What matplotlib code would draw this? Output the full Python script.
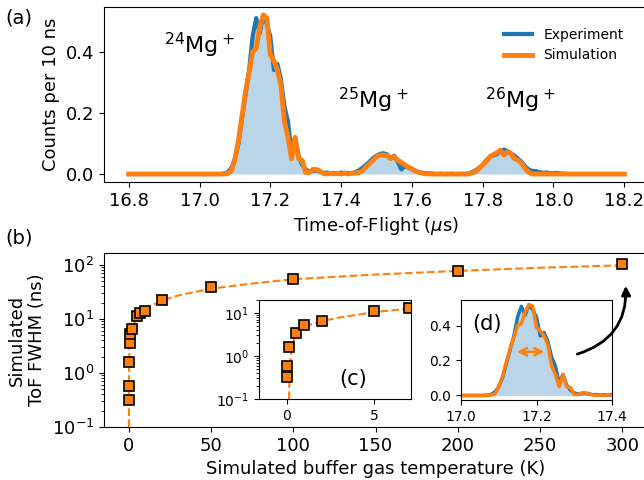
import numpy as np
import matplotlib
matplotlib.use("Agg")
import matplotlib.pyplot as plt

# time bins, 10 ns wide (us)
tof = np.round(np.linspace(16.80, 18.20, 141), 2)

# measured counts per 10 ns, 16.80 .. 18.20
experiment = [
    0, 0, 0, 0, 0, 0, 0, 0, 0, 0,                                   # 16.80
    0, 0, 0, 0, 0, 0, 0, 0, 0, 0,                                   # 16.90
    0, 0, 0, 0, 0, 0, 0, 0.002, 0.006, 0.02,                        # 17.00
    0.05, 0.10, 0.18, 0.26, 0.34, 0.45, 0.51, 0.46, 0.52, 0.49,     # 17.10
    0.45, 0.34, 0.36, 0.31, 0.22, 0.17, 0.07, 0.12, 0.06, 0.03,     # 17.20
    0.015, 0.008, 0.01, 0.012, 0.008, 0.004, 0.005, 0.002, 0.004, 0.001,  # 17.30
    0.005, 0.002, 0.004, 0.002, 0.006, 0.012, 0.02, 0.03, 0.04, 0.052,   # 17.40
    0.06, 0.066, 0.068, 0.064, 0.052, 0.06, 0.04, 0.015, 0.025, 0.022,   # 17.50
    0.016, 0.01, 0.007, 0.004, 0.003, 0.002, 0.001, 0, 0.001, 0,         # 17.60
    0, 0.001, 0, 0, 0.001, 0, 0.002, 0.006, 0.012, 0.02,                 # 17.70
    0.03, 0.045, 0.055, 0.06, 0.065, 0.075, 0.08, 0.075, 0.068, 0.06,    # 17.80
    0.05, 0.04, 0.025, 0.015, 0.01, 0.01, 0.006, 0.004, 0.005, 0.003,    # 17.90
    0.003, 0.004, 0.002, 0.001, 0, 0, 0, 0, 0, 0,                       # 18.00
    0, 0, 0, 0, 0, 0, 0, 0, 0, 0,                                       # 18.10
    0,
]

simulation = [
    0, 0, 0, 0, 0, 0, 0, 0, 0, 0,
    0, 0, 0, 0, 0, 0, 0, 0, 0, 0,
    0, 0, 0, 0, 0, 0, 0, 0, 0.002, 0.01,
    0.05, 0.11, 0.19, 0.27, 0.33, 0.40, 0.41, 0.48, 0.52, 0.51,
    0.39, 0.37, 0.34, 0.29, 0.17, 0.12, 0.05, 0.12, 0.05, 0.045,
    0.005, 0.005, 0.015, 0.015, 0.01, 0.002, 0, 0.003, 0, 0.003,
    0, 0.004, 0, 0.003, 0.003, 0.005, 0.01, 0.023, 0.034, 0.045,
    0.057, 0.062, 0.062, 0.06, 0.05, 0.057, 0.045, 0.038, 0.03, 0.022,
    0.017, 0.01, 0.005, 0.003, 0.001, 0, 0, 0, 0, 0,
    0, 0, 0, 0, 0, 0, 0, 0.004, 0.008, 0.018,
    0.03, 0.04, 0.057, 0.063, 0.07, 0.078, 0.062, 0.073, 0.066, 0.05,
    0.045, 0.035, 0.018, 0.006, 0, 0, 0, 0, 0, 0,
    0, 0, 0, 0, 0, 0, 0, 0, 0, 0,
    0, 0, 0, 0, 0, 0, 0, 0, 0, 0,
    0,
]

# simulated FWHM vs buffer gas temperature
temp_K = [0, 0, 0.1, 0.5, 1, 2, 5, 7, 10, 20, 50, 100, 200, 300]
fwhm_ns = [0.32, 0.57, 1.62, 3.5, 5.2, 6.4, 11.4, 13, 14, 22, 38, 54, 77, 102]

# dashed guide curve
fit_T = [0.12, 0.14, 0.17, 0.2, 0.25, 0.3, 0.4, 0.5, 0.7, 1, 1.5, 2, 3, 5, 7,
         10, 15, 20, 30, 50, 75, 100, 150, 200, 250, 300]
fit_W = [0.1, 0.25, 0.5, 0.8, 1.2, 1.6, 2.4, 3.0, 3.9, 4.9, 5.6, 6.5, 7.8, 10.5, 12.6,
         15, 18.3, 21.5, 27, 36, 45, 54, 66, 77, 88, 98]

peak_labels = [r"$^{24}$Mg$^+$", r"$^{25}$Mg$^+$", r"$^{26}$Mg$^+$"]
peak_pos = [(17.0, 0.42), (17.49, 0.24), (17.905, 0.24)]

plt.rcParams["font.size"] = 13

fig = plt.figure(figsize=(6.44, 4.8), dpi=100)
W, H = 644, 480


def px_axes(l, t, r, b):
    return fig.add_axes([l / W, 1 - b / H, (r - l) / W, (b - t) / H])


# ---- (a) ToF spectrum
ax_a = px_axes(104, 7, 649, 182)
ax_a.fill_between(tof, experiment, color="C0", alpha=0.3, lw=0)
ax_a.plot(tof, experiment, color="C0", lw=3, label="Experiment")
ax_a.plot(tof, simulation, color="C1", lw=3.5, label="Simulation")
ax_a.set_xticks([16.8, 17.0, 17.2, 17.4, 17.6, 17.8, 18.0, 18.2])
ax_a.set_yticks([0.0, 0.2, 0.4])
ax_a.set_xlabel(r"Time-of-Flight ($\mu$s)")
ax_a.set_ylabel("Counts per 10 ns")
for lab, (x, y) in zip(peak_labels, peak_pos):
    ax_a.text(x, y, lab, fontsize=16, ha="center", va="center")
ax_a.legend(loc="upper right", frameon=False, fontsize=10,
            bbox_to_anchor=(636 / W, 1 - 15 / H), bbox_transform=fig.transFigure)
fig.text(5 / W, 1 - 18 / H, "(a)", fontsize=14, va="center")

# ---- (b) FWHM vs temperature
ax_b = px_axes(104, 253, 647, 427)
ax_b.plot(fit_T, fit_W, "--", color="C1", lw=1.5)
ax_b.plot(temp_K, fwhm_ns, "s", color="C1", mec="k", ms=7, mew=1.2)
ax_b.set_yscale("log")
ax_b.set_ylim(0.1, 165)
ax_b.set_xlim(-15, 315)
ax_b.set_xticks([0, 50, 100, 150, 200, 250, 300])
ax_b.set_xlabel("Simulated buffer gas temperature (K)")
ax_b.set_ylabel("Simulated\nToF FWHM (ns)")
fig.text(5 / W, 1 - 238 / H, "(b)", fontsize=14, va="center")

# ---- (c) inset, low temperatures
ax_c = px_axes(259, 300, 411, 399)
ax_c.plot(fit_T, fit_W, "--", color="C1", lw=1.5)
ax_c.plot(temp_K, fwhm_ns, "s", color="C1", mec="k", ms=7, mew=1.2)
ax_c.set_yscale("log")
ax_c.set_ylim(0.1, 20)
ax_c.set_xlim(-1.6, 7.1)
ax_c.set_xticks([0, 5])
ax_c.tick_params(labelsize=10)
ax_c.text(0.62, 0.2, "(c)", transform=ax_c.transAxes, fontsize=15,
          ha="center", va="center")

# ---- (d) inset, 24Mg peak with FWHM
ax_d = px_axes(461, 300, 612, 400)
ax_d.fill_between(tof, experiment, color="C0", alpha=0.3, lw=0)
ax_d.plot(tof, experiment, color="C0", lw=2.5)
ax_d.plot(tof, simulation, color="C1", lw=2.5)
ax_d.set_xlim(17.0, 17.4)
ax_d.set_ylim(-0.026, 0.546)
ax_d.set_xticks([17.0, 17.2, 17.4])
ax_d.set_yticks([0.0, 0.2, 0.4])
ax_d.tick_params(labelsize=10)
ax_d.annotate("", xy=(17.228, 0.25), xytext=(17.141, 0.25),
              arrowprops=dict(arrowstyle="<->", color="C1", lw=1.8))
ax_d.text(0.17, 0.76, "(d)", transform=ax_d.transAxes, fontsize=15,
          ha="center", va="center")

# curved arrow from the inset peak to the 300 K point, drawn above the inset
ax_d.annotate("", xy=(302, 46), xycoords=ax_b.transData,
              xytext=(271, 2.15), textcoords=ax_b.transData,
              annotation_clip=False,
              arrowprops=dict(arrowstyle="-|>", color="k", lw=2,
                              connectionstyle="arc3,rad=0.4"))

fig.savefig("out.png", dpi=100)
